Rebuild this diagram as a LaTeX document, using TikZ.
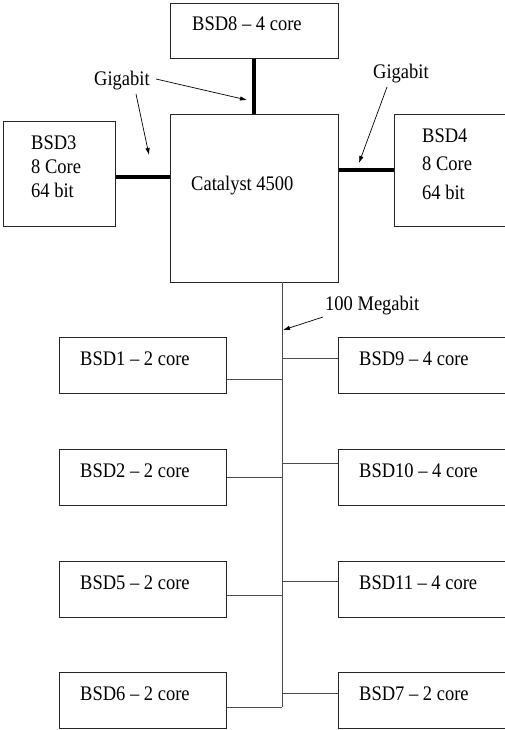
\documentclass[tikz,border=0pt]{standalone}
\usepackage{fontspec}
\setmainfont{Liberation Serif}
\usetikzlibrary{arrows.meta}
\newcommand{\vst}[1]{\scalebox{1}[1.12]{#1}}
\tikzset{
  box/.style={draw=black!85, line width=0.8pt, rectangle, inner sep=0pt, anchor=north west},
  lbl/.style={anchor=base west, inner sep=0pt, font=\fontsize{18.5}{22}\selectfont},
  thick link/.style={line width=4pt, black},
  bus/.style={draw=black!70, line width=0.9pt},
  note/.style={line width=0.7pt, -{Latex[length=7pt,width=4.5pt]}},
}
\begin{document}
\begin{tikzpicture}[x=1pt,y=-1pt]
\useasboundingbox (0,0) rectangle (505,730);
% upper boxes
\node[box, minimum width=168pt, minimum height=55pt] (b8) at (170,3) {};
\node[lbl] (b8t) at (192,30.5) {\vst{BSD8 -- 4 core}};
\node[box, minimum width=168pt, minimum height=168pt] (cat) at (170,114) {};
\node[lbl] (catt) at (191,190.5) {\vst{Catalyst 4500}};
\node[box, minimum width=112pt, minimum height=105pt] (b3) at (3,121) {};
\node[lbl] (b3a) at (31,149.5) {\vst{BSD3}};
\node[lbl] (b3b) at (31,173.5) {\vst{8 Core}};
\node[lbl] (b3c) at (31,197.5) {\vst{64 bit}};
\node[box, minimum width=114pt, minimum height=112pt] (b4) at (394,114) {};
\node[lbl] (b4a) at (422,143) {\vst{BSD4}};
\node[lbl] (b4b) at (422,171) {\vst{8 Core}};
\node[lbl] (b4c) at (422,199) {\vst{64 bit}};
% thick gigabit links
\draw[thick link] (b8.south -| 254,0) -- (cat.north -| 254,0);
\draw[thick link] (b3.east |- 0,177) -- (cat.west |- 0,177);
\draw[thick link] (cat.east |- 0,170) -- (b4.west |- 0,170);
% labels
\node[lbl] (g1) at (94,86) {\vst{Gigabit}};
\node[lbl] (g2) at (373,79) {\vst{Gigabit}};
\node[lbl] (mb) at (325,310.5) {\vst{100 Megabit}};
\coordinate (g1a) at (156,79);
\coordinate (g1b) at (136,94);
\coordinate (g2a) at (387,87);
\coordinate (mba) at (323,317);
\coordinate (t1) at (247,100);
\coordinate (t2) at (149,155);
\coordinate (t3) at (359,163);
\coordinate (t4) at (283,330);
\draw[note] (g1a) -- (t1);
\draw[note] (g1b) -- (t2);
\draw[note] (g2a) -- (t3);
\draw[note] (mba) -- (t4);
% lower boxes
\foreach \n/\y/\t in {b1/337/BSD1 -- 2 core, b2/449/BSD2 -- 2 core, b5/561/BSD5 -- 2 core, b6/672/BSD6 -- 2 core}{
  \node[box, minimum width=167pt, minimum height=56pt] (\n) at (59,\y) {};
  \node[lbl] (\n t) at (80,\y+28) {\vst{\t}};
}
\foreach \n/\y/\t in {b9/337/BSD9 -- 4 core, b10/449/BSD10 -- 4 core, b11/561/BSD11 -- 4 core, b7/672/BSD7 -- 2 core}{
  \node[box, minimum width=170pt, minimum height=56pt] (\n) at (338,\y) {};
  \node[lbl] (\n t) at (359,\y+28) {\vst{\t}};
}
% bus
\coordinate (bt) at (282,282);
\coordinate (bb) at (282,707);
\draw[bus] (bt) -- (bb);
\draw[bus] (b1.east |- 0,379) -- (bt |- 0,379);
\draw[bus] (b2.east |- 0,477) -- (bt |- 0,477);
\draw[bus] (b5.east |- 0,595) -- (bt |- 0,595);
\draw[bus] (b6.east |- 0,707) -- (bb);
\draw[bus] (bt |- 0,358) -- (b9.west |- 0,358);
\draw[bus] (bt |- 0,463) -- (b10.west |- 0,463);
\draw[bus] (bt |- 0,581) -- (b11.west |- 0,581);
\draw[bus] (bt |- 0,693) -- (b7.west |- 0,693);
\end{tikzpicture}
\end{document}
